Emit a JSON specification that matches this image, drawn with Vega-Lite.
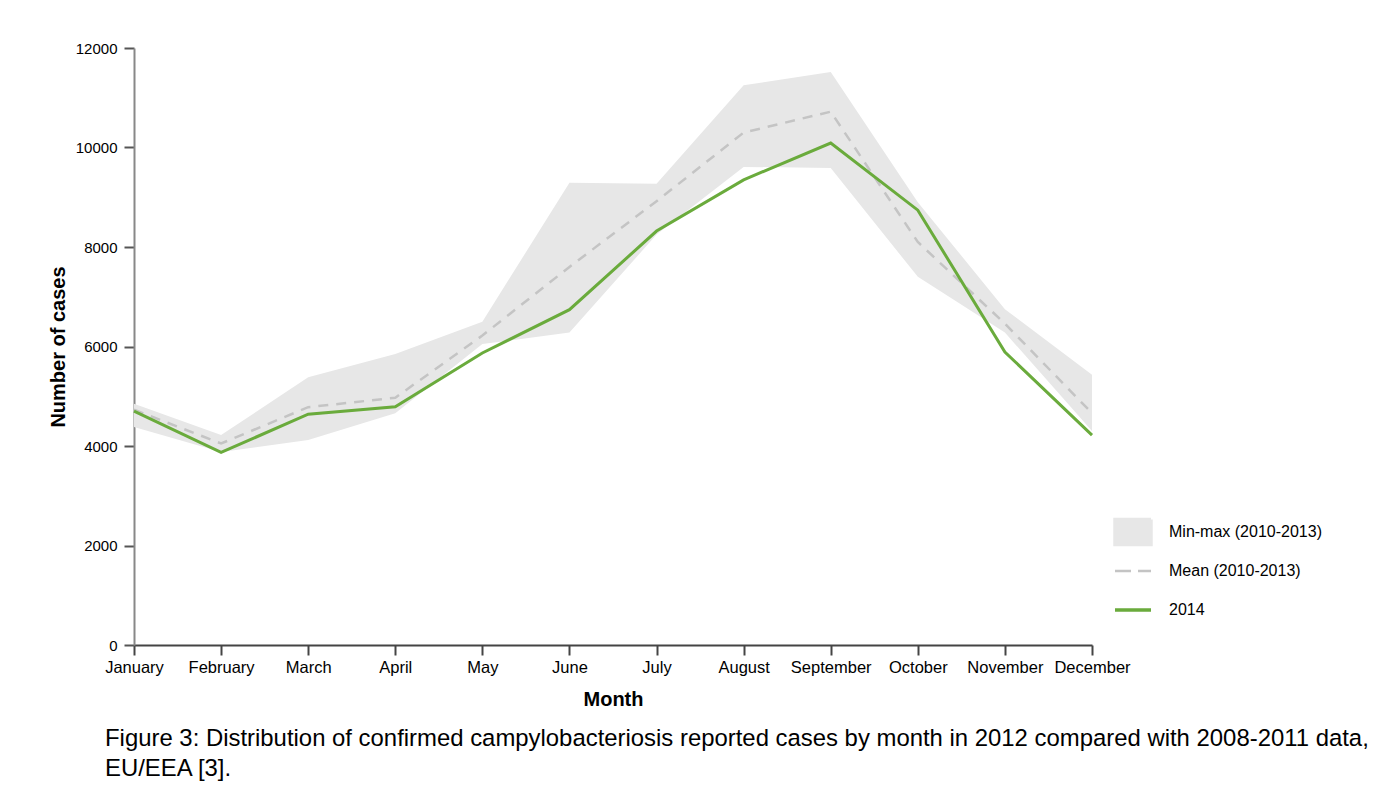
{
  "$schema": "https://vega.github.io/schema/vega-lite/v6.json",
  "width": 958,
  "height": 597,
  "autosize": "none",
  "padding": {"left": 134, "top": 48, "right": 281, "bottom": 149},
  "background": "white",
  "config": {
    "font": "Liberation Sans",
    "view": {"stroke": null},
    "title": {"color": "#000"},
    "legend": {
      "title": null,
      "orient": "none",
      "legendX": 991,
      "legendY": 476,
      "padding": 0,
      "labelFontSize": 16,
      "labelColor": "#000",
      "labelOffset": 28,
      "symbolSize": 1600,
      "rowPadding": 1
    }
  },
  "title": {
    "text": ["Figure 3: Distribution of confirmed campylobacteriosis reported cases by month in 2012 compared with 2008-2011 data,", "EU/EEA [3]."],
    "orient": "bottom",
    "anchor": "start",
    "frame": "group",
    "dx": -29,
    "offset": 17,
    "fontSize": 23.9,
    "fontWeight": "normal",
    "lineHeight": 30,
    "color": "#000"
  },
  "data": {
    "values": [
      {"month": "January", "min": 4380, "max": 4850, "mean": 4730, "y2014": 4700},
      {"month": "February", "min": 3880, "max": 4220, "mean": 4050, "y2014": 3870},
      {"month": "March", "min": 4120, "max": 5380, "mean": 4780, "y2014": 4640},
      {"month": "April", "min": 4660, "max": 5850, "mean": 4970, "y2014": 4790},
      {"month": "May", "min": 6050, "max": 6500, "mean": 6220, "y2014": 5870},
      {"month": "June", "min": 6280, "max": 9290, "mean": 7600, "y2014": 6740},
      {"month": "July", "min": 8250, "max": 9270, "mean": 8920, "y2014": 8320},
      {"month": "August", "min": 9610, "max": 11250, "mean": 10300, "y2014": 9350},
      {"month": "September", "min": 9590, "max": 11520, "mean": 10720, "y2014": 10090},
      {"month": "October", "min": 7400, "max": 8900, "mean": 8100, "y2014": 8740},
      {"month": "November", "min": 6280, "max": 6750, "mean": 6460, "y2014": 5890},
      {"month": "December", "min": 4300, "max": 5430, "mean": 4660, "y2014": 4220}
    ]
  },
  "encoding": {
    "x": {
      "field": "month",
      "type": "ordinal",
      "sort": null,
      "scale": {"type": "point", "padding": 0},
      "axis": {
        "title": "Month",
        "labelAngle": 0,
        "labelFontSize": 16.5,
        "labelColor": "#000",
        "labelPadding": 4,
        "tickSize": 10,
        "tickWidth": 2,
        "tickColor": "#444",
        "domainColor": "#444",
        "domainWidth": 2,
        "titleFontSize": 20,
        "titleFontWeight": "bold",
        "titleColor": "#000",
        "titlePadding": 14
      }
    }
  },
  "layer": [
    {
      "mark": {"type": "area", "opacity": 1},
      "encoding": {
        "y": {
          "field": "min",
          "type": "quantitative",
          "scale": {"domain": [0, 12000], "nice": false},
          "axis": {
            "title": "Number of cases",
            "values": [0, 2000, 4000, 6000, 8000, 10000, 12000],
            "format": "d",
            "grid": false,
            "labelFontSize": 15,
            "labelColor": "#000",
            "labelPadding": 7,
            "tickSize": 10,
            "tickWidth": 2,
            "tickColor": "#555",
            "domainColor": "#888",
            "domainWidth": 2,
            "titleFontSize": 20,
            "titleFontWeight": "bold",
            "titleColor": "#000",
            "titlePadding": 7
          }
        },
        "y2": {"field": "max"},
        "color": {
          "datum": "Min-max (2010-2013)",
          "type": "nominal",
          "scale": {
            "domain": ["Min-max (2010-2013)", "Mean (2010-2013)", "2014"],
            "range": ["#e7e7e7", "#c4c4c4", "#6aab3c"]
          },
          "legend": {
            "encode": {
              "symbols": {
                "update": {
                  "shape": {"signal": "datum.value === 'Min-max (2010-2013)' ? 'M-0.9,-0.62H0.9V0.62H-0.9Z' : 'M-0.9,-0.62M-0.9,0.62M-0.9,0H0.9'"},
                  "fill": {"signal": "datum.value === 'Min-max (2010-2013)' ? '#e7e7e7' : 'transparent'"},
                  "stroke": {"signal": "datum.value === 'Min-max (2010-2013)' ? 'transparent' : (datum.value === 'Mean (2010-2013)' ? '#c4c4c4' : '#6aab3c')"},
                  "strokeDash": {"signal": "datum.value === 'Mean (2010-2013)' ? [16, 7] : [1, 0]"},
                  "strokeWidth": {"signal": "datum.value === 'Mean (2010-2013)' ? 2.5 : 3.5"},
                  "opacity": {"value": 1}
                }
              }
            }
          }
        }
      }
    },
    {
      "mark": {"type": "line", "strokeDash": [10, 8], "strokeWidth": 2.5},
      "encoding": {
        "y": {"field": "mean", "type": "quantitative"},
        "color": {
          "datum": "Mean (2010-2013)",
          "type": "nominal",
          "legend": {
            "encode": {
              "symbols": {
                "update": {
                  "shape": {"signal": "datum.value === 'Min-max (2010-2013)' ? 'M-0.9,-0.62H0.9V0.62H-0.9Z' : 'M-0.9,-0.62M-0.9,0.62M-0.9,0H0.9'"},
                  "fill": {"signal": "datum.value === 'Min-max (2010-2013)' ? '#e7e7e7' : 'transparent'"},
                  "stroke": {"signal": "datum.value === 'Min-max (2010-2013)' ? 'transparent' : (datum.value === 'Mean (2010-2013)' ? '#c4c4c4' : '#6aab3c')"},
                  "strokeDash": {"signal": "datum.value === 'Mean (2010-2013)' ? [16, 7] : [1, 0]"},
                  "strokeWidth": {"signal": "datum.value === 'Mean (2010-2013)' ? 2.5 : 3.5"},
                  "opacity": {"value": 1}
                }
              }
            }
          }
        }
      }
    },
    {
      "mark": {"type": "line", "strokeWidth": 3},
      "encoding": {
        "y": {"field": "y2014", "type": "quantitative"},
        "color": {
          "datum": "2014",
          "type": "nominal",
          "legend": {
            "encode": {
              "symbols": {
                "update": {
                  "shape": {"signal": "datum.value === 'Min-max (2010-2013)' ? 'M-0.9,-0.62H0.9V0.62H-0.9Z' : 'M-0.9,-0.62M-0.9,0.62M-0.9,0H0.9'"},
                  "fill": {"signal": "datum.value === 'Min-max (2010-2013)' ? '#e7e7e7' : 'transparent'"},
                  "stroke": {"signal": "datum.value === 'Min-max (2010-2013)' ? 'transparent' : (datum.value === 'Mean (2010-2013)' ? '#c4c4c4' : '#6aab3c')"},
                  "strokeDash": {"signal": "datum.value === 'Mean (2010-2013)' ? [16, 7] : [1, 0]"},
                  "strokeWidth": {"signal": "datum.value === 'Mean (2010-2013)' ? 2.5 : 3.5"},
                  "opacity": {"value": 1}
                }
              }
            }
          }
        }
      }
    }
  ]
}
